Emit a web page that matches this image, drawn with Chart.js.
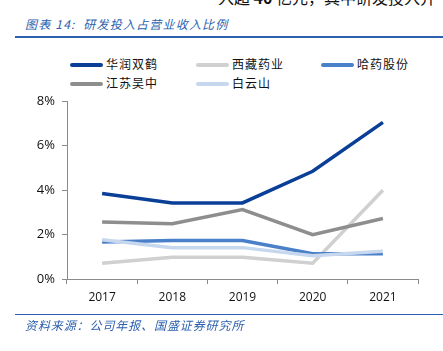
<!DOCTYPE html>
<html><head><meta charset="utf-8">
<script src="https://cdn.jsdelivr.net/npm/chart.js@4/dist/chart.umd.min.js"></script>
<style>
html,body{margin:0;padding:0;background:#fff;width:443px;height:351px;overflow:hidden;position:relative;font-family:"Noto Sans CJK SC",sans-serif;}
#c{position:absolute;left:0;top:0;}
.t{position:absolute;white-space:nowrap;}
.lg{position:absolute;font-size:12px;letter-spacing:1px;color:#111;line-height:14px;}
.lg i{position:absolute;left:-36px;top:6px;width:33px;height:4px;border-radius:2px;}
</style></head><body>
<div class="t" style="left:218px;top:-15px;font-size:16px;color:#111;">入超 <b>40</b> 亿元，其中研发投入并</div>
<div class="t" style="left:25px;top:15px;font-size:12px;font-style:italic;letter-spacing:1.2px;color:#2d5fae;">图表 14:&nbsp; 研发投入占营业收入比例</div>
<div style="position:absolute;left:15px;top:36px;width:428px;height:2px;background:#2d5fae;"></div>
<div id="legend"></div>
<canvas id="c" width="443" height="351"></canvas>
<div style="position:absolute;left:15px;top:314px;width:428px;height:1px;background:#2d5fae;"></div>
<div class="t" style="left:25px;top:316px;font-size:12px;font-style:italic;letter-spacing:0.9px;color:#2d5fae;">资料来源：公司年报、国盛证券研究所</div>
<script>
const categories = ["2017","2018","2019","2020","2021"];
const seriesNames = ["华润双鹤","西藏药业","哈药股份","江苏吴中","白云山"];
const huarun = [3.84, 3.42, 3.42, 4.84, 7.04];
const xizang = [0.71, 0.98, 0.98, 0.71, 3.99];
const hayao = [1.66, 1.73, 1.73, 1.14, 1.13];
const jiangsu = [2.56, 2.48, 3.12, 1.99, 2.72];
const baiyun = [1.76, 1.41, 1.41, 1.04, 1.25];
const yTicks = [0, 2, 4, 6, 8];
const colors = ["#0a3f97", "#d0d0d0", "#4a7fc9", "#8e8e8e", "#c6d7ee"];
const values = [huarun, xizang, hayao, jiangsu, baiyun];

// legend (HTML)
const legPos = [[106,57],[232,57],[357,57],[106,76],[232,76]];
const lg = document.getElementById('legend');
seriesNames.forEach((n,i)=>{
  const d = document.createElement('div');
  d.className='lg';
  d.style.left=legPos[i][0]+'px'; d.style.top=legPos[i][1]+'px';
  d.innerHTML='<i style="background:'+colors[i]+'"></i>'+n;
  lg.appendChild(d);
});

new Chart(document.getElementById('c'), {
  type: 'line',
  data: {
    labels: categories,
    datasets: seriesNames.map((n,i)=>({
      label: n, data: values[i], borderColor: colors[i], backgroundColor: colors[i],
      borderWidth: 3.5, pointRadius: 0, tension: 0, order: -i, fill: false
    }))
  },
  options: {
    responsive: false, animation: false,
    layout: { padding: { left: 0, right: 25, top: 101, bottom: 0 } },
    plugins: { legend: { display: false }, tooltip: { enabled: false } },
    scales: {
      x: {
        offset: true,
        grid: { offset: true, drawOnChartArea: false, drawTicks: true, tickLength: 5, color: '#8a8a8a' },
        border: { display: true, color: '#8a8a8a', width: 1 },
        ticks: { color: '#111', font: { family: 'Open Sans', size: 12 }, padding: 6 },
        afterFit: s => { s.height = 72; }
      },
      y: {
        min: 0, max: 8,
        afterBuildTicks: s => { s.ticks = yTicks.map(v=>({value:v})); },
        grid: { drawOnChartArea: false, drawTicks: true, tickLength: 5, color: '#8a8a8a' },
        border: { display: true, color: '#8a8a8a', width: 1 },
        ticks: { color: '#111', font: { family: 'Open Sans', size: 13 }, padding: 7, callback: v => v + '%' },
        afterFit: s => { s.width = 67; }
      }
    }
  }
});
</script>
</body></html>
